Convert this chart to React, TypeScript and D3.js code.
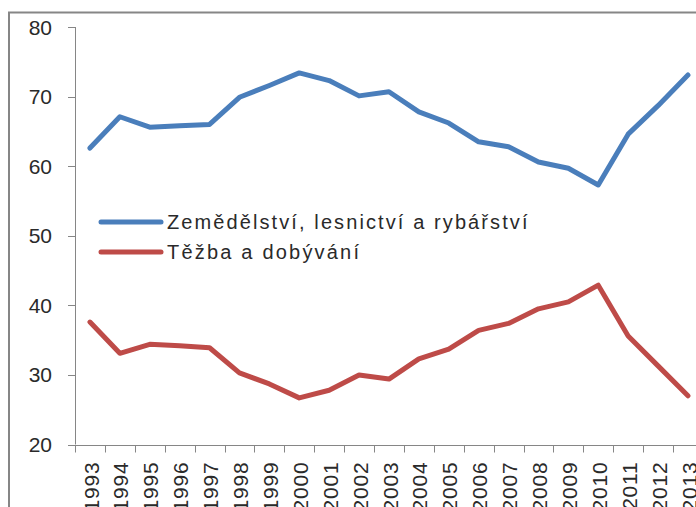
import { useRef, useEffect } from 'react';
import * as d3 from 'd3';

const YEARS = ['1993', '1994', '1995', '1996', '1997', '1998', '1999', '2000', '2001', '2002', '2003',
  '2004', '2005', '2006', '2007', '2008', '2009', '2010', '2011', '2012', '2013'];
const AGRI = [62.6, 67.1, 65.6, 65.8, 66.0, 69.9, 71.6, 73.4, 72.3, 70.1, 70.7,
  67.8, 66.2, 63.5, 62.8, 60.6, 59.7, 57.3, 64.6, 68.7, 73.1];
const MINING = [37.6, 33.1, 34.4, 34.2, 33.9, 30.3, 28.7, 26.7, 27.8, 30.0, 29.4,
  32.3, 33.7, 36.4, 37.4, 39.5, 40.5, 42.9, 35.6, 31.3, 27.0];
const Y_TICKS = [20, 30, 40, 50, 60, 70, 80];
const LEGEND = ['Zemědělství, lesnictví a rybářství', 'Těžba a dobývání'];
const COLORS = ['#4a7ebb', '#be4b48'];

const W = 696, H = 507;
const GRAY = '#868686';
const FONT = 'Liberation Sans, Arial, sans-serif';

export default function App() {
  const ref = useRef<SVGSVGElement>(null);

  useEffect(() => {
    const svg = d3.select(ref.current);
    svg.selectAll('*').remove();

    // chart frame (runs off the right/bottom of the picture)
    svg.append('rect').attr('x', 9).attr('y', 12.5).attr('width', 800).attr('height', 600)
      .attr('fill', '#fff').attr('stroke', GRAY).attr('stroke-width', 2);

    const x0 = 75, step = 29.9;
    const x = d3.scaleBand().domain(YEARS).range([x0, x0 + step * YEARS.length]);
    const y = d3.scaleLinear().domain([20, 80]).range([444.5, 27]);

    // y axis
    svg.append('line').attr('x1', x0 + 0.5).attr('x2', x0 + 0.5).attr('y1', y(80)).attr('y2', y(20))
      .attr('stroke', GRAY);
    Y_TICKS.forEach(t => {
      svg.append('line').attr('x1', 68).attr('x2', x0).attr('y1', Math.round(y(t)) + 0.5).attr('y2', Math.round(y(t)) + 0.5)
        .attr('stroke', GRAY);
      svg.append('text').attr('x', 52).attr('y', y(t)).attr('dy', '0.36em')
        .attr('text-anchor', 'end').attr('font-family', FONT).attr('font-size', '21px').attr('fill', '#2a2a2a')
        .text(t);
    });

    // x axis
    const yb = Math.round(y(20)) + 0.5;
    svg.append('line').attr('x1', x0).attr('x2', W).attr('y1', yb).attr('y2', yb).attr('stroke', GRAY);
    for (let i = 0; i <= YEARS.length; i++) {
      const tx = Math.round(x0 + i * step) + 0.5;
      svg.append('line').attr('x1', tx).attr('x2', tx).attr('y1', yb).attr('y2', yb + 7).attr('stroke', GRAY);
    }
    YEARS.forEach(yr => {
      const cx = (x(yr) as number) + x.bandwidth() / 2 + 1;
      svg.append('text').attr('transform', `translate(${cx},${yb + 16}) rotate(-90)`)
        .attr('dy', '0.36em').attr('text-anchor', 'end')
        .attr('font-family', FONT).attr('font-size', '21px').attr('fill', '#2a2a2a')
        .attr('letter-spacing', '0.8px')
        .text(yr);
    });

    // series
    const line = d3.line<number>()
      .x((_, i) => (x(YEARS[i]) as number) + x.bandwidth() / 2)
      .y(d => y(d));
    [AGRI, MINING].forEach((s, k) => {
      svg.append('path').datum(s).attr('d', line).attr('fill', 'none')
        .attr('stroke', COLORS[k]).attr('stroke-width', 5)
        .attr('stroke-linejoin', 'round').attr('stroke-linecap', 'round');
    });

    // legend
    LEGEND.forEach((name, k) => {
      const ly = 222 + k * 30;
      svg.append('line').attr('x1', 101).attr('x2', 161).attr('y1', ly).attr('y2', ly)
        .attr('stroke', COLORS[k]).attr('stroke-width', 5).attr('stroke-linecap', 'round');
      svg.append('text').attr('x', 167).attr('y', ly + 7)
        .attr('font-family', FONT).attr('font-size', '20px').attr('fill', '#2a2a2a')
        .attr('letter-spacing', k === 0 ? '2.1px' : '2.2px')
        .text(name);
    });
  }, []);

  return (
    <div style={{ position: 'absolute', left: 0, top: 0, width: W, height: H, overflow: 'hidden' }}>
      <svg ref={ref} width={W} height={H} style={{ display: 'block', background: '#fff' }} />
    </div>
  );
}
